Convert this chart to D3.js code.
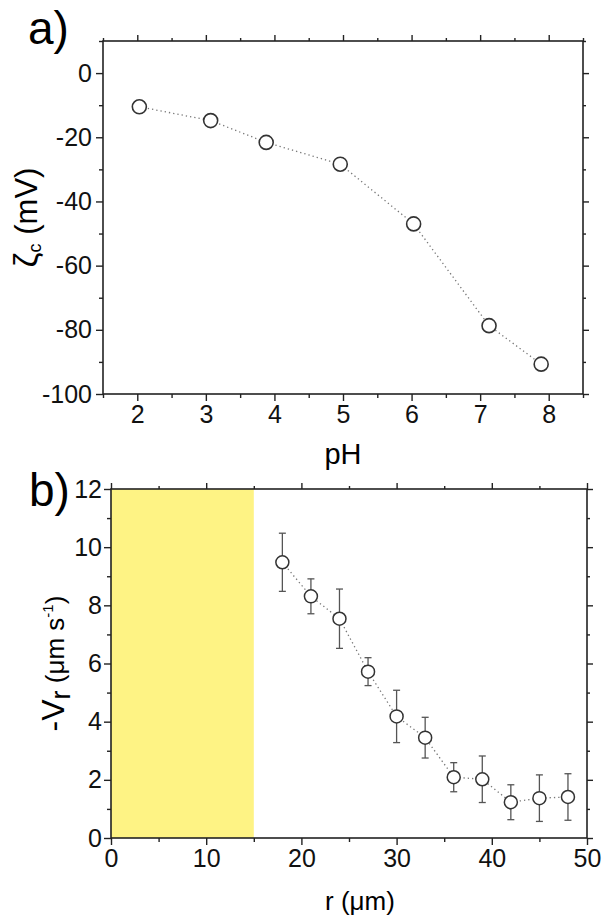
<!DOCTYPE html>
<html>
<head>
<meta charset="utf-8">
<script src="https://cdn.jsdelivr.net/npm/d3@7"></script>
<style>
  body { margin: 0; background: #fff; }
  svg { font-family: "Liberation Sans", Arial, sans-serif; }
  .frame { fill: none; stroke: #222; stroke-width: 1.6; }
  .axis path { display: none; }
  .axis line { stroke: #222; stroke-width: 1.4; }
  .axis text { fill: #111; font-size: 25px; font-family: "Liberation Sans", Arial, sans-serif; }
</style>
</head>
<body>
<svg id="fig" width="606" height="918"></svg>
<script>
// panel a) zeta potential vs pH
var phVals = [2.03, 3.07, 3.88, 4.96, 6.03, 7.13, 7.89]
var zetaVals = [-10.5, -14.8, -21.6, -28.4, -47.0, -78.7, -90.7]
var phTicks = [2, 3, 4, 5, 6, 7, 8]
var zetaTicks = [0, -20, -40, -60, -80, -100]

// panel b) radial velocity vs r
var rVals = [18, 21, 24, 27, 30, 33, 36, 39, 42, 45, 48]
var vrVals = [9.48, 8.31, 7.54, 5.72, 4.18, 3.45, 2.09, 2.02, 1.23, 1.37, 1.41]
var vrErr = [1.0, 0.6, 1.02, 0.48, 0.9, 0.7, 0.5, 0.8, 0.6, 0.8, 0.8]
var rTicks = [0, 10, 20, 30, 40, 50]
var vrTicks = [0, 2, 4, 6, 8, 10, 12]
var shadedR = [0, 15]

var svg = d3.select("#fig")
var plain = function(d){ return String(d) }   // keep hyphen minus like the original

function drawFrame(g, x, y, opt){
	var x0 = x.range()[0], x1 = x.range()[1]
	var y0 = y.range()[0], y1 = y.range()[1]

	// major + minor ticks, outward on bottom/left, inward on top/right
	function ticks(axisFn, vals, size, fmt, tr, pad){
		var a = axisFn.tickValues(vals).tickSizeInner(size).tickSizeOuter(0).tickPadding(pad || 4)
		a.tickFormat(fmt ? plain : "")
		g.append("g").attr("class","axis").attr("transform",tr).call(a)
	}
	ticks(d3.axisBottom(x), opt.xMajor, 7, true, "translate(0,"+y0+")", opt.xpad)
	ticks(d3.axisBottom(x), opt.xMinor, 4, false, "translate(0,"+y0+")")
	ticks(d3.axisLeft(y), opt.yMajor, 7, true, "translate("+x0+",0)", opt.ypad)
	ticks(d3.axisLeft(y), opt.yMinor, 4, false, "translate("+x0+",0)")
	ticks(d3.axisBottom(x), opt.xMajor, -6, false, "translate(0,"+y1+")")
	ticks(d3.axisBottom(x), opt.xMinor, -3, false, "translate(0,"+y1+")")
	ticks(d3.axisLeft(y), opt.yMajor, -6, false, "translate("+x1+",0)")
	ticks(d3.axisLeft(y), opt.yMinor, -3, false, "translate("+x1+",0)")

	g.append("rect").attr("class","frame")
		.attr("x",x0).attr("y",y1).attr("width",x1-x0).attr("height",y0-y1)
}

/* ---------- panel a ---------- */
var xa = d3.scaleLinear().domain([1.5, 8.5]).range([103, 583])
var ya = d3.scaleLinear().domain([-100, 10]).range([394, 41])
var ga = svg.append("g")

drawFrame(ga, xa, ya, {
	xMajor: phTicks, xMinor: [1.5, 2.5, 3.5, 4.5, 5.5, 6.5, 7.5, 8.5],
	yMajor: zetaTicks, yMinor: [-90, -70, -50, -30, -10, 10], xpad: 4, ypad: 4
})

var ptsA = phVals.map(function(p, i){ return {x: p, y: zetaVals[i]} })
ga.append("path")
	.datum(ptsA)
	.attr("fill","none").attr("stroke","#777").attr("stroke-width",1.3)
	.attr("stroke-dasharray","1.3,3")
	.attr("d", d3.line().x(function(d){ return xa(d.x) }).y(function(d){ return ya(d.y) }))

ga.selectAll(".pa")
	.data(ptsA)
.enter().append("circle")
	.classed("pa",true)
	.attr("cx",function(d){ return xa(d.x) })
	.attr("cy",function(d){ return ya(d.y) })
	.attr("r",7)
	.attr("fill","#fff").attr("stroke","#333").attr("stroke-width",1.6)

ga.append("text").attr("x",28).attr("y",44).attr("font-size",46).text("a)")

ga.append("text")
	.attr("x",(103+583)/2).attr("y",464).attr("text-anchor","middle").attr("font-size",29)
	.text("pH")

var yla = ga.append("text")
	.attr("transform","translate(37,"+((41+394)/2)+") rotate(-90)")
	.attr("text-anchor","middle").attr("font-size",31)
yla.append("tspan").attr("font-size",34).text("ζ")
yla.append("tspan").attr("font-size",18).attr("dy",4).text("c")
yla.append("tspan").attr("dy",-4).text("  (mV)")

/* ---------- panel b ---------- */
var xb = d3.scaleLinear().domain([0, 50]).range([111, 587])
var yb = d3.scaleLinear().domain([0, 12]).range([838, 489])
var gb = svg.append("g")

gb.append("rect")
	.attr("x",xb(shadedR[0])).attr("y",yb(12))
	.attr("width",xb(shadedR[1])-xb(shadedR[0])).attr("height",yb(0)-yb(12))
	.attr("fill","#fef384")

drawFrame(gb, xb, yb, {
	xMajor: rTicks, xMinor: [5, 15, 25, 35, 45],
	yMajor: vrTicks, yMinor: [1, 3, 5, 7, 9, 11], xpad: 4, ypad: 2
})

var ptsB = rVals.map(function(r, i){ return {x: r, y: vrVals[i], e: vrErr[i]} })

gb.append("path")
	.datum(ptsB)
	.attr("fill","none").attr("stroke","#777").attr("stroke-width",1.3)
	.attr("stroke-dasharray","1.3,3")
	.attr("d", d3.line().x(function(d){ return xb(d.x) }).y(function(d){ return yb(d.y) }))

var eb = gb.selectAll(".eb")
	.data(ptsB)
.enter().append("g")
	.classed("eb",true)
	.attr("stroke","#555").attr("stroke-width",1.3)
eb.append("line")
	.attr("x1",function(d){ return xb(d.x) }).attr("x2",function(d){ return xb(d.x) })
	.attr("y1",function(d){ return yb(d.y + d.e) }).attr("y2",function(d){ return yb(d.y - d.e) })
eb.append("line")
	.attr("x1",function(d){ return xb(d.x) - 3.5 }).attr("x2",function(d){ return xb(d.x) + 3.5 })
	.attr("y1",function(d){ return yb(d.y + d.e) }).attr("y2",function(d){ return yb(d.y + d.e) })
eb.append("line")
	.attr("x1",function(d){ return xb(d.x) - 3.5 }).attr("x2",function(d){ return xb(d.x) + 3.5 })
	.attr("y1",function(d){ return yb(d.y - d.e) }).attr("y2",function(d){ return yb(d.y - d.e) })

gb.selectAll(".pb")
	.data(ptsB)
.enter().append("circle")
	.classed("pb",true)
	.attr("cx",function(d){ return xb(d.x) })
	.attr("cy",function(d){ return yb(d.y) })
	.attr("r",6.5)
	.attr("fill","#fff").attr("stroke","#333").attr("stroke-width",1.5)

gb.append("text").attr("x",29).attr("y",506).attr("font-size",46).text("b)")

gb.append("text")
	.attr("x",360).attr("y",910).attr("text-anchor","middle").attr("font-size",26)
	.text("r (μm)")

var ylb = gb.append("text")
	.attr("transform","translate(64,"+((489+838)/2)+") rotate(-90)")
	.attr("text-anchor","middle").attr("font-size",26)
ylb.append("tspan").attr("font-size",32).text("-V")
ylb.append("tspan").attr("font-size",27).attr("dy",6).text("r")
ylb.append("tspan").attr("dy",-6).text("  (μm s")
ylb.append("tspan").attr("font-size",15).attr("dy",-11).text("-1")
ylb.append("tspan").attr("dy",11).text(")")
</script>
</body>
</html>
